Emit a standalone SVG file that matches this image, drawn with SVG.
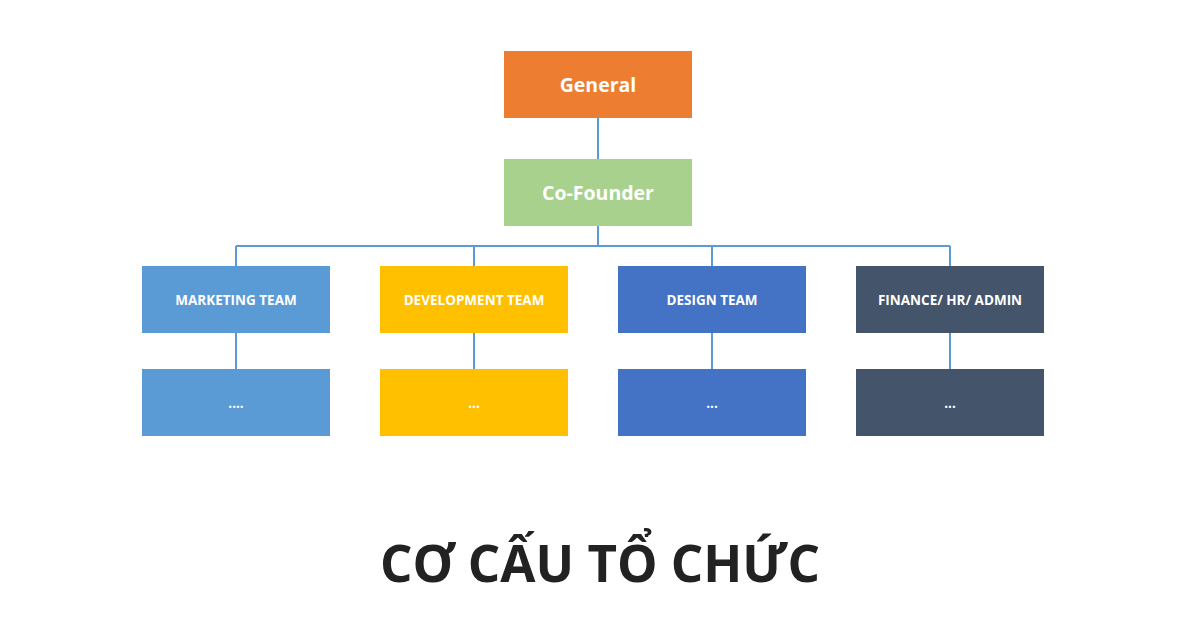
<svg xmlns="http://www.w3.org/2000/svg" width="1200" height="628" viewBox="0 0 1200 628">
<style>
.lbl{font-family:"Open Sans","DejaVu Sans",sans-serif;font-weight:bold;fill:#fff;text-anchor:middle}
.big{font-size:19.5px}
.sm{font-size:13.5px}
.con{fill:none;stroke:#5B9BD5;stroke-width:2}
.title{font-family:"Open Sans","Noto Sans",sans-serif;font-weight:bold;font-size:52px;fill:#222;text-anchor:middle}
</style>
<rect width="1200" height="628" fill="#fff"/>
<g id="connectors">
<path class="con" d="M598 118V159M598 226V246M236 246H950M236 246V266M474 246V266M712 246V266M950 246V266M236 333V369M474 333V369M712 333V369M950 333V369"/>
</g>
<g id="general"><rect x="504" y="51" width="188" height="67" fill="#ED7D31"/><text class="lbl big" x="598" y="92">General</text></g>
<g id="cofounder"><rect x="504" y="159" width="188" height="67" fill="#A9D18E"/><text class="lbl big" x="598" y="200">Co-Founder</text></g>
<g id="marketing"><rect x="142" y="266" width="188" height="67" fill="#5B9BD5"/><text class="lbl sm" x="236" y="304.5">MARKETING TEAM</text></g>
<g id="development"><rect x="380" y="266" width="188" height="67" fill="#FFC000"/><text class="lbl sm" x="474" y="304.5">DEVELOPMENT TEAM</text></g>
<g id="design"><rect x="618" y="266" width="188" height="67" fill="#4472C4"/><text class="lbl sm" x="712" y="304.5">DESIGN TEAM</text></g>
<g id="finance"><rect x="856" y="266" width="188" height="67" fill="#44546A"/><text class="lbl sm" x="950" y="304.5">FINANCE/ HR/ ADMIN</text></g>
<g id="marketing-sub"><rect x="142" y="369" width="188" height="67" fill="#5B9BD5"/><text class="lbl sm" x="236" y="408">....</text></g>
<g id="development-sub"><rect x="380" y="369" width="188" height="67" fill="#FFC000"/><text class="lbl sm" x="474" y="408">...</text></g>
<g id="design-sub"><rect x="618" y="369" width="188" height="67" fill="#4472C4"/><text class="lbl sm" x="712" y="408">...</text></g>
<g id="finance-sub"><rect x="856" y="369" width="188" height="67" fill="#44546A"/><text class="lbl sm" x="950" y="408">...</text></g>
<text class="title" x="600" y="582" textLength="440" lengthAdjust="spacingAndGlyphs">CƠ CẤU TỔ CHỨC</text>
</svg>
